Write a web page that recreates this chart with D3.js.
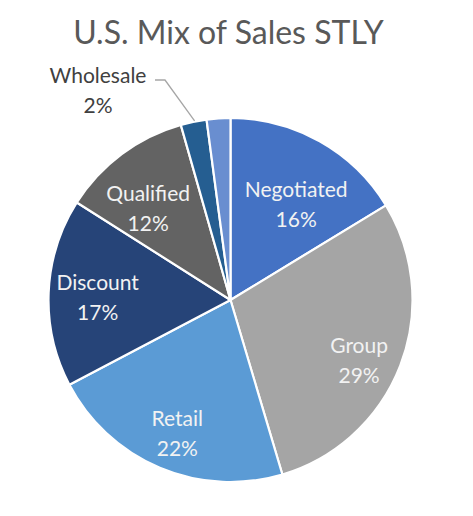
<!DOCTYPE html>
<html>
<head>
<meta charset="utf-8">
<script src="https://cdn.jsdelivr.net/npm/d3@7"></script>
<style>
  html, body { margin: 0; padding: 0; background: #fff; }
  svg { display: block; }
</style>
</head>
<body>
<div class="chart"></div>
<script>
// chart data
const categories = ['Negotiated', 'Group', 'Retail', 'Discount', 'Qualified', 'Wholesale', 'Other'];
const shares = [16.3, 29.1, 21.9, 16.7, 11.6, 2.3, 2.1];
const showLabel = [true, true, true, true, true, true, false];

const colors = ['#4472C4', '#A5A5A5', '#5B9BD5', '#264478', '#636363', '#255E91', '#698ED0'];

// label placement (fraction of radius, angle nudge in degrees), Excel "best fit" look
const labelPos = {
  Negotiated: {k: 0.64, da: 5},
  Group: {k: 0.78, da: 4},
  Retail: {k: 0.785, da: -1},
  Discount: {k: 0.73, da: -1},
  Qualified: {k: 0.68, da: -5}
};

const width = 473;
const height = 516;
const cx = 230.5;
const cy = 300;
const radius = 182;
const font = 'Lato, "Open Sans", sans-serif';

const svg = d3.select('.chart')
  .append('svg')
  .attr('width', width)
  .attr('height', height);

svg.append('text')
  .attr('x', cx - 2)
  .attr('y', 44)
  .attr('text-anchor', 'middle')
  .style('font-family', font)
  .style('font-size', '32px')
  .style('fill', '#595959')
  .text('U.S. Mix of Sales STLY');

const data = categories.map((c, i) => ({label: c, value: shares[i], show: showLabel[i]}));
const total = d3.sum(shares);

const pie = d3.pie()
  .value(d => d.value)
  .sort(null);

const arc = d3.arc()
  .innerRadius(0)
  .outerRadius(radius);

const color = d3.scaleOrdinal(categories, colors);

const g = svg.append('g')
  .attr('transform', 'translate(' + cx + ',' + cy + ')');

const arcs = pie(data);

g.selectAll('path')
  .data(arcs)
  .enter()
  .append('path')
  .attr('d', arc)
  .attr('fill', d => color(d.data.label))
  .attr('stroke', '#fff')
  .attr('stroke-width', 2.2)
  .attr('stroke-linejoin', 'round');

const pct = d => Math.round(d.data.value / total * 100) + '%';

// inside labels
const inside = arcs.filter(d => labelPos[d.data.label]);
const lab = g.selectAll('.lab')
  .data(inside)
  .enter()
  .append('text')
  .attr('class', 'lab')
  .attr('transform', d => {
    const p = labelPos[d.data.label];
    const a = (d.startAngle + d.endAngle) / 2 + p.da * Math.PI / 180;
    const r = radius * p.k;
    return 'translate(' + (r * Math.sin(a)) + ',' + (-r * Math.cos(a)) + ')';
  })
  .attr('text-anchor', 'middle')
  .style('font-family', font)
  .style('font-size', '21px')
  .style('fill', '#f2f2f2');

lab.append('tspan')
  .attr('x', 0)
  .attr('y', -7)
  .text(d => d.data.label);
lab.append('tspan')
  .attr('x', 0)
  .attr('y', 23)
  .text(pct);

// outside label with leader line for the thin Wholesale slice
const ws = arcs.find(d => d.data.label === 'Wholesale');
const wa = (ws.startAngle + ws.endAngle) / 2;
const edge = [radius * Math.sin(wa), -radius * Math.cos(wa)];
const lx = 98 - cx;
const ly = 83 - cy;

g.append('path')
  .attr('d', d3.line()([[lx + 57, ly - 3], [lx + 67, ly - 3], [edge[0] + 1, edge[1] - 1]]))
  .attr('fill', 'none')
  .attr('stroke', '#a6a6a6')
  .attr('stroke-width', 1.3);

const wt = g.append('text')
  .attr('text-anchor', 'middle')
  .style('font-family', font)
  .style('font-size', '21px')
  .style('fill', '#404040');
wt.append('tspan').attr('x', lx).attr('y', ly).text(ws.data.label);
wt.append('tspan').attr('x', lx).attr('y', ly + 30).text(pct(ws));
</script>
</body>
</html>
